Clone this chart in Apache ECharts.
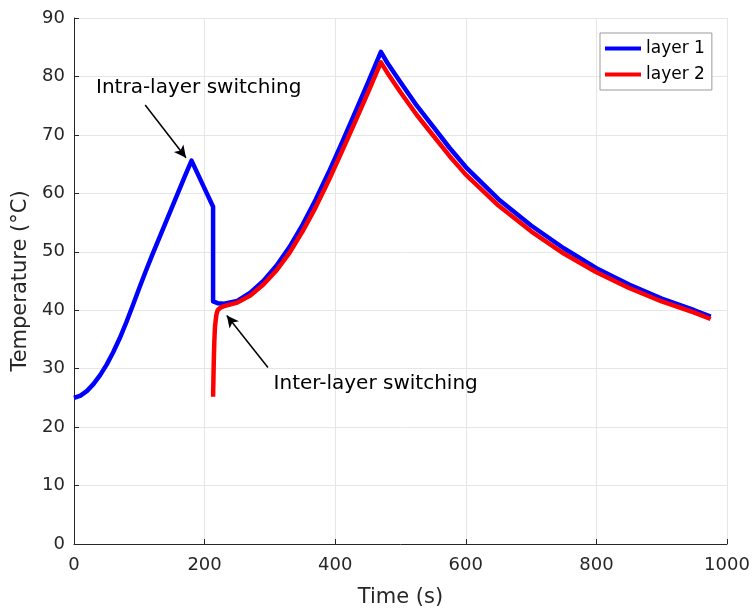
<!DOCTYPE html>
<html>
<head>
<meta charset="utf-8">
<script src="https://cdn.jsdelivr.net/npm/echarts@6/dist/echarts.min.js"></script>
<style>html,body{margin:0;padding:0;background:#fff}#c{width:753px;height:610px}</style>
</head>
<body>
<div id="c"></div>
<script>
// ---- data ----
var layer1Time = [0,10,20,30,40,50,60,70,80,90,100,110,120,130,140,150,160,170,180,190,200,213,213,220,230,250,270,290,310,330,350,370,390,410,430,450,470,480,500,525,550,575,600,650,700,750,800,850,900,950,975];
var layer1Temp = [25.0,25.4,26.2,27.4,28.9,30.7,32.8,35.2,37.9,40.8,43.8,46.7,49.5,52.2,54.9,57.6,60.3,63.0,65.6,63.2,60.8,57.7,41.5,41.2,41.1,41.6,43.0,45.0,47.6,50.8,54.6,58.9,63.6,68.6,73.7,78.9,84.2,82.3,79.0,75.0,71.4,67.8,64.5,59.0,54.5,50.6,47.2,44.4,42.0,40.0,38.9];
var layer2Time = [213,214,215,216,218,220,225,230,240,250,270,290,310,330,350,370,390,410,430,450,470,480,500,525,550,575,600,650,700,750,800,850,900,950,975];
var layer2Temp = [25.2,31.0,35.0,37.3,39.2,40.0,40.5,40.7,41.0,41.3,42.5,44.4,46.8,49.8,53.5,57.6,62.2,67.1,72.1,77.2,82.4,80.6,77.3,73.4,69.9,66.4,63.2,57.9,53.5,49.7,46.5,43.8,41.5,39.6,38.5];
var seriesNames = ['layer 1', 'layer 2'];
var xTicks = {min: 0, max: 1000, interval: 200};
var yTicks = {min: 0, max: 90, interval: 10};
var annotationTexts = ['Intra-layer switching', 'Inter-layer switching'];
// annotation anchor points in data space: [time, temperature]
var intraText = [191, 78.0];
var intraArrow = [[109, 75.1], [171.5, 66.1]];
var interText = [462, 27.4];
var interArrow = [[297, 30.2], [234, 39.1]];

function pairs(xs, ys) { return xs.map(function (x, i) { return [x, ys[i]]; }); }

var FONT = 'DejaVu Sans';
var chart = echarts.init(document.getElementById('c'), null, {renderer: 'canvas'});
var axisCommon = {
  axisLine: {show: true, onZero: false, lineStyle: {color: '#262626', width: 1}},
  axisTick: {show: true, inside: true, length: 5, lineStyle: {color: '#262626'}},
  splitLine: {show: true, lineStyle: {color: '#e6e6e6', width: 1}},
  axisLabel: {color: '#262626', fontFamily: FONT, fontSize: 18, formatter: function (v) { return String(v); }},
  nameTextStyle: {color: '#262626', fontFamily: FONT, fontSize: 21}
};
chart.setOption({
  animation: false,
  backgroundColor: '#fff',
  grid: {left: 74, right: 26, top: 18, bottom: 66, containLabel: false, outerBoundsMode: 'none'},
  xAxis: Object.assign({}, axisCommon, {
    type: 'value', min: xTicks.min, max: xTicks.max, interval: xTicks.interval,
    name: 'Time (s)', nameLocation: 'middle', nameGap: 43,
    axisLabel: Object.assign({}, axisCommon.axisLabel, {margin: 12})
  }),
  yAxis: Object.assign({}, axisCommon, {
    type: 'value', min: yTicks.min, max: yTicks.max, interval: yTicks.interval,
    name: 'Temperature (°C)', nameLocation: 'middle', nameGap: 40, nameRotate: 90,
    axisLabel: Object.assign({}, axisCommon.axisLabel, {margin: 9})
  }),
  legend: {
    left: 600, top: 33, orient: 'vertical',
    backgroundColor: '#fff', borderColor: '#9a9a9a', borderWidth: 1,
    padding: [7, 7, 7, 5], itemGap: 9,
    icon: 'rect', itemWidth: 36, itemHeight: 4,
    textStyle: {fontFamily: FONT, fontSize: 17, color: '#000'},
    data: seriesNames
  },
  series: [
    {
      name: seriesNames[0], type: 'line', data: pairs(layer1Time, layer1Temp),
      showSymbol: false, symbol: 'none', color: '#0000ff',
      lineStyle: {color: '#0000ff', width: 4.5, join: 'round'},
      z: 2,
      markLine: {
        silent: true, symbol: ['none', 'arrow'], symbolSize: [9, 12],
        lineStyle: {color: '#000', width: 1.5, type: 'solid'},
        label: {show: false},
        data: [
          [{coord: intraArrow[0]}, {coord: intraArrow[1]}],
          [{coord: interArrow[0]}, {coord: interArrow[1]}]
        ]
      },
      markPoint: {
        silent: true, symbol: 'circle', symbolSize: 0,
        label: {show: true, position: 'inside', color: '#000', fontFamily: FONT, fontSize: 20},
        data: [
          {coord: intraText, label: {formatter: annotationTexts[0]}},
          {coord: interText, label: {formatter: annotationTexts[1]}}
        ]
      }
    },
    {
      name: seriesNames[1], type: 'line', data: pairs(layer2Time, layer2Temp),
      showSymbol: false, symbol: 'none', color: '#ff0000',
      lineStyle: {color: '#ff0000', width: 4.5, join: 'round'},
      z: 3
    }
  ]
});
</script>
</body>
</html>
